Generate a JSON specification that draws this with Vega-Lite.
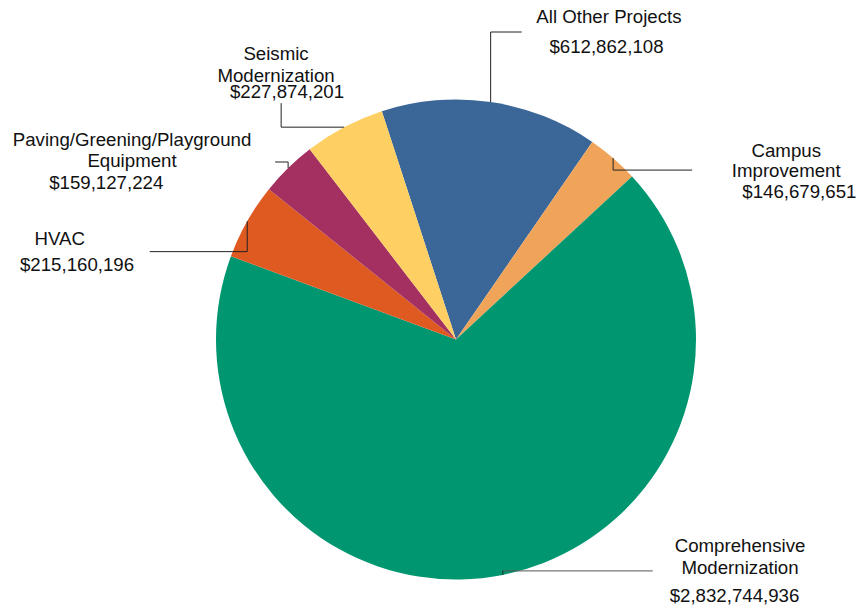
{
  "$schema": "https://vega.github.io/schema/vega-lite/v6.json",
  "width": 804,
  "height": 537,
  "padding": {"left": 54, "top": 71, "right": 0, "bottom": 0},
  "autosize": {"type": "none"},
  "background": "white",
  "config": {"view": {"stroke": null}, "text": {"font": "Liberation Sans", "fontSize": 18.67, "color": "#111111", "align": "center", "baseline": "alphabetic"}, "rule": {"color": "#222222", "strokeWidth": 1}},
  "data": {"values": [
    {"category": "All Other Projects", "label": "All Other Projects", "value": 612862108},
    {"category": "Campus Improvement", "label": "Campus\nImprovement", "value": 146679651},
    {"category": "Comprehensive Modernization", "label": "Comprehensive\nModernization", "value": 2832744936},
    {"category": "HVAC", "label": "HVAC", "value": 215160196},
    {"category": "Paving/Greening/Playground Equipment", "label": "Paving/Greening/Playground\nEquipment", "value": 159127224},
    {"category": "Seismic Modernization", "label": "Seismic\nModernization", "value": 227874201}
  ]},
  "transform": [
    {"window": [{"op": "sum", "field": "value", "as": "cum"}], "sort": [{"field": "category", "order": "ascending"}], "frame": [null, 0]},
    {"joinaggregate": [{"op": "sum", "field": "value", "as": "total"}]},
    {"calculate": "-0.314159 + 2 * PI * (datum.cum - datum.value / 2) / datum.total", "as": "mid"},
    {"calculate": "sin(datum.mid)", "as": "ex"},
    {"calculate": "cos(datum.mid)", "as": "ey"}
  ],
  "layer": [
    {
      "mark": {"type": "arc", "radius": 240, "stroke": null},
      "encoding": {
        "theta": {"field": "value", "type": "quantitative", "stack": true, "scale": {"range": [-0.314159, 5.969026]}},
        "order": {"field": "category", "type": "ordinal", "sort": "ascending"},
        "color": {"field": "category", "type": "nominal", "legend": null,
          "scale": {"domain": ["All Other Projects", "Campus Improvement", "Comprehensive Modernization", "HVAC", "Paving/Greening/Playground Equipment", "Seismic Modernization"],
                    "range": ["#3a6698", "#f0a45a", "#009670", "#de5a21", "#a33061", "#fecf63"]}}
      }
    },
    {
      "transform": [{"filter": "datum.category === 'All Other Projects'"}],
      "encoding": {
        "x": {"field": "ex", "type": "quantitative", "scale": {"domain": [-1.675, 1.675], "nice": false, "zero": false}, "axis": null},
        "y": {"field": "ey", "type": "quantitative", "scale": {"domain": [-1.11875, 1.11875], "nice": false, "zero": false}, "axis": null}
      },
      "layer": [
        {"mark": {"type": "rule", "y2Offset": -70}, "encoding": {"y2": {"field": "ey"}}},
        {"mark": {"type": "rule", "yOffset": -70, "x2Offset": 31}, "encoding": {"x2": {"field": "ex"}}},
        {"mark": {"type": "text", "dx": 118.3, "dy": -79.3, "lineBreak": "\n"}, "encoding": {"text": {"field": "label"}}},
        {"mark": {"type": "text", "dx": 115.8, "dy": -48.7}, "encoding": {"text": {"field": "value", "type": "quantitative", "format": "$,.0f"}}}
      ]
    },
    {
      "transform": [{"filter": "datum.category === 'Campus Improvement'"}],
      "encoding": {
        "x": {"field": "ex", "type": "quantitative", "scale": {"domain": [-1.675, 1.675], "nice": false, "zero": false}, "axis": null},
        "y": {"field": "ey", "type": "quantitative", "scale": {"domain": [-1.11875, 1.11875], "nice": false, "zero": false}, "axis": null}
      },
      "layer": [
        {"mark": {"type": "rule", "y2Offset": 12}, "encoding": {"y2": {"field": "ey"}}},
        {"mark": {"type": "rule", "yOffset": 12, "x2Offset": 79}, "encoding": {"x2": {"field": "ex"}}},
        {"mark": {"type": "text", "dx": 173.1, "dy": -1.4, "lineBreak": "\n", "lineHeight": 20}, "encoding": {"text": {"field": "label"}}},
        {"mark": {"type": "text", "dx": 186.2, "dy": 40.2}, "encoding": {"text": {"field": "value", "type": "quantitative", "format": "$,.0f"}}}
      ]
    },
    {
      "transform": [{"filter": "datum.category === 'Comprehensive Modernization'"}],
      "encoding": {
        "x": {"field": "ex", "type": "quantitative", "scale": {"domain": [-1.675, 1.675], "nice": false, "zero": false}, "axis": null},
        "y": {"field": "ey", "type": "quantitative", "scale": {"domain": [-1.11875, 1.11875], "nice": false, "zero": false}, "axis": null}
      },
      "layer": [
        {"mark": {"type": "rule", "y2Offset": -4}, "encoding": {"y2": {"field": "ey"}}},
        {"mark": {"type": "rule", "yOffset": -4, "x2Offset": 150, "color": "#555555"}, "encoding": {"x2": {"field": "ex"}}},
        {"mark": {"type": "text", "dx": 237.2, "dy": -22.9, "lineBreak": "\n", "lineHeight": 22}, "encoding": {"text": {"field": "label"}}},
        {"mark": {"type": "text", "dx": 231.7, "dy": 27.1}, "encoding": {"text": {"field": "value", "type": "quantitative", "format": "$,.0f"}}}
      ]
    },
    {
      "transform": [{"filter": "datum.category === 'HVAC'"}],
      "encoding": {
        "x": {"field": "ex", "type": "quantitative", "scale": {"domain": [-1.675, 1.675], "nice": false, "zero": false}, "axis": null},
        "y": {"field": "ey", "type": "quantitative", "scale": {"domain": [-1.11875, 1.11875], "nice": false, "zero": false}, "axis": null}
      },
      "layer": [
        {"mark": {"type": "rule", "y2Offset": 30.5}, "encoding": {"y2": {"field": "ey"}}},
        {"mark": {"type": "rule", "yOffset": 30.5, "x2Offset": -97.5}, "encoding": {"x2": {"field": "ex"}}},
        {"mark": {"type": "text", "dx": -187.5, "dy": 23.8, "lineBreak": "\n"}, "encoding": {"text": {"field": "label"}}},
        {"mark": {"type": "text", "dx": -170.2, "dy": 49.8}, "encoding": {"text": {"field": "value", "type": "quantitative", "format": "$,.0f"}}}
      ]
    },
    {
      "transform": [{"filter": "datum.category === 'Paving/Greening/Playground Equipment'"}],
      "encoding": {
        "x": {"field": "ex", "type": "quantitative", "scale": {"domain": [-1.675, 1.675], "nice": false, "zero": false}, "axis": null},
        "y": {"field": "ey", "type": "quantitative", "scale": {"domain": [-1.11875, 1.11875], "nice": false, "zero": false}, "axis": null}
      },
      "layer": [
        {"mark": {"type": "rule", "y2Offset": -6}, "encoding": {"y2": {"field": "ey"}}},
        {"mark": {"type": "rule", "yOffset": -6, "x2Offset": -13}, "encoding": {"x2": {"field": "ex"}}},
        {"mark": {"type": "text", "dx": -156.1, "dy": -22, "lineBreak": "\n", "lineHeight": 20.7}, "encoding": {"text": {"field": "label"}}},
        {"mark": {"type": "text", "dx": -181.9, "dy": 21.3}, "encoding": {"text": {"field": "value", "type": "quantitative", "format": "$,.0f"}}}
      ]
    },
    {
      "transform": [{"filter": "datum.category === 'Seismic Modernization'"}],
      "encoding": {
        "x": {"field": "ex", "type": "quantitative", "scale": {"domain": [-1.675, 1.675], "nice": false, "zero": false}, "axis": null},
        "y": {"field": "ey", "type": "quantitative", "scale": {"domain": [-1.11875, 1.11875], "nice": false, "zero": false}, "axis": null}
      },
      "layer": [
        {"mark": {"type": "rule", "x2Offset": -63}, "encoding": {"x2": {"field": "ex"}}},
        {"mark": {"type": "rule", "xOffset": -63, "y2Offset": -24}, "encoding": {"y2": {"field": "ey"}}},
        {"mark": {"type": "text", "dx": -68.1, "dy": -67.2, "lineBreak": "\n", "lineHeight": 21.7}, "encoding": {"text": {"field": "label"}}},
        {"mark": {"type": "text", "dx": -57.1, "dy": -28.9}, "encoding": {"text": {"field": "value", "type": "quantitative", "format": "$,.0f"}}}
      ]
    }
  ]
}
